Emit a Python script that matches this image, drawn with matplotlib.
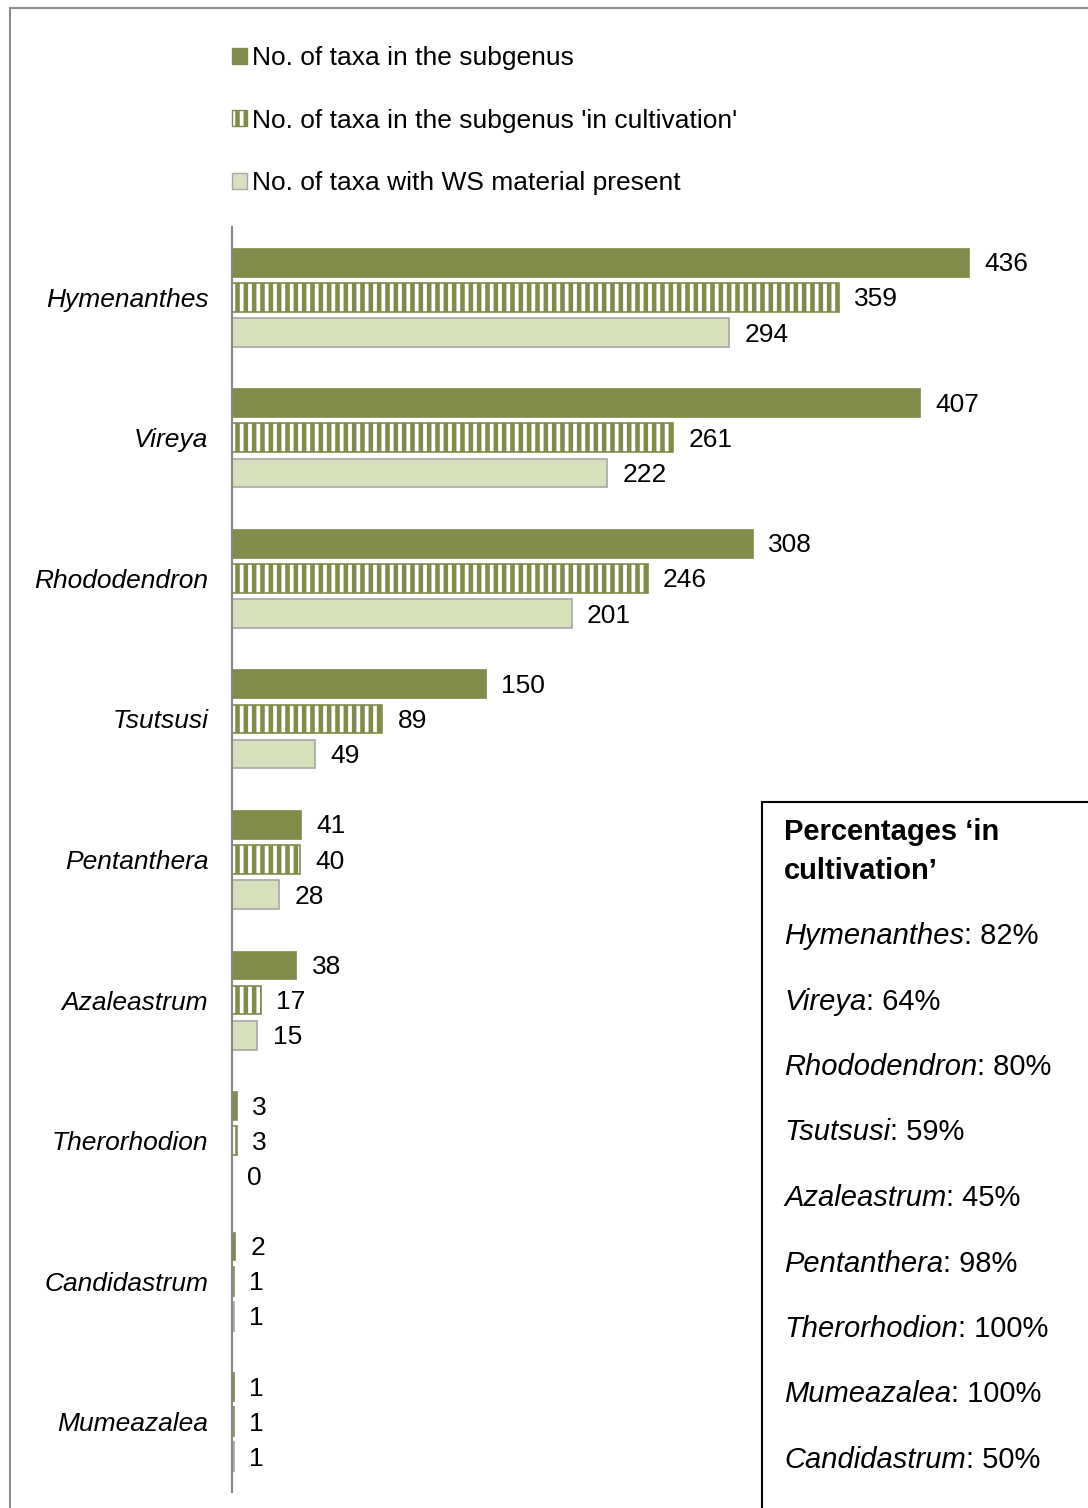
import numpy as np
import matplotlib
matplotlib.use("Agg")
import matplotlib.pyplot as plt
from matplotlib.patches import Patch, Rectangle

plt.rcParams['font.family'] = ['Liberation Sans', 'DejaVu Sans']
plt.rcParams['hatch.linewidth'] = 3.3

# data
subgenera = ["Hymenanthes", "Vireya", "Rhododendron", "Tsutsusi", "Pentanthera",
             "Azaleastrum", "Therorhodion", "Candidastrum", "Mumeazalea"]
n_subgenus = [436, 407, 308, 150, 41, 38, 3, 2, 1]
n_cultivation = [359, 261, 246, 89, 40, 17, 3, 1, 1]
n_ws = [294, 222, 201, 49, 28, 15, 0, 1, 1]

pct_names = ["Hymenanthes", "Vireya", "Rhododendron", "Tsutsusi", "Azaleastrum",
             "Pentanthera", "Therorhodion", "Mumeazalea", "Candidastrum"]
pct_values = ["82%", "64%", "80%", "59%", "45%", "98%", "100%", "100%", "50%"]

legend_labels = ["No. of taxa in the subgenus",
                 "No. of taxa in the subgenus 'in cultivation'",
                 "No. of taxa with WS material present"]

olive = "#7F8C4A"
light = "#D6E1BC"
grey_edge = "#A6A6A6"
fs = 19
fs_box = 21

W, H = 1088, 1508
fig = plt.figure(figsize=(W / 100, H / 100), dpi=100)

# outer frame (cut by the image edge)
fig.patches.append(Rectangle((10 / W, -0.1), 2, 1.1 - 8 / H,
                             transform=fig.transFigure, fill=False,
                             edgecolor="#8C8C8C", linewidth=1.5, zorder=0))

ax = fig.add_axes([232 / W, 16 / H, (W - 232) / W, (1492 - 227) / H])

y = np.arange(len(subgenera))
h = 0.205
off = 0.25

ax.barh(y - off, n_subgenus, height=h, color=olive, edgecolor=olive,
        linewidth=0.5)
ax.barh(y, n_cultivation, height=h, color="white", edgecolor=olive,
        hatch="||", linewidth=1.2)
ax.barh(y + off, n_ws, height=h, color=light, edgecolor=grey_edge,
        linewidth=1.2)

for vals, dy in [(n_subgenus, -off), (n_cultivation, 0), (n_ws, off)]:
    for i, v in enumerate(vals):
        ax.annotate(str(v), (v, i + dy), xytext=(11, -1.5),
                    textcoords="offset points", va="center", ha="left",
                    fontsize=fs, annotation_clip=False)

ax.set_xlim(0, (W - 232) / 1.69)
ax.set_ylim(len(subgenera) - 0.5, -0.5)
ax.set_yticks(y)
ax.set_yticklabels(subgenera, fontsize=fs, fontstyle="italic")
ax.set_xticks([])
ax.tick_params(axis="y", length=0, pad=17)
for s in ["top", "right", "bottom"]:
    ax.spines[s].set_visible(False)
ax.spines["left"].set_color("#868686")
ax.spines["left"].set_linewidth(1.5)
ax.patch.set_alpha(0)

# legend
handles = [Patch(facecolor=olive, edgecolor=olive),
           Patch(facecolor="white", edgecolor=olive, hatch="||"),
           Patch(facecolor=light, edgecolor=grey_edge)]
fig.legend(handles, legend_labels, loc="upper left",
           bbox_to_anchor=(232 / W, 1 - 46 / H), frameon=False, fontsize=fs,
           handlelength=0.55, handleheight=0.55, handletextpad=0.2,
           labelspacing=1.46, borderaxespad=0, borderpad=0)

# percentages box
fig.patches.append(Rectangle((762 / W, -0.1), 1, (H - 802) / H + 0.1,
                             transform=fig.transFigure, fill=False,
                             edgecolor="black", linewidth=1.5, zorder=5))
fig.text(784 / W, 1 - 832 / H, "Percentages \u2018in", fontsize=fs_box,
         fontweight="bold", va="center")
fig.text(784 / W, 1 - 871 / H, "cultivation\u2019", fontsize=fs_box,
         fontweight="bold", va="center")
for k, (name, p) in enumerate(zip(pct_names, pct_values)):
    yy = 1 - (936 + k * 65.5) / H
    t = fig.text(784 / W, yy, name, fontsize=fs_box, fontstyle="italic",
                 va="center")
    ax.annotate(": " + p, xy=(1, 0.5), xycoords=t, va="center", ha="left",
                fontsize=fs_box, annotation_clip=False)

fig.savefig("out.png", dpi=100)
